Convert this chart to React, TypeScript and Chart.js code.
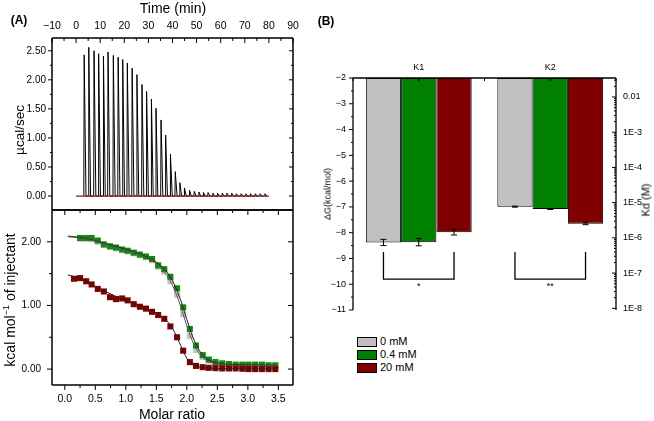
import React, { useEffect, useRef } from 'react';
import { Chart, registerables } from 'chart.js';
Chart.register(...registerables);

const FONT = '"Liberation Sans", Arial, Helvetica, sans-serif';
Chart.defaults.font.family = FONT;
Chart.defaults.color = '#000';

// ---------- Panel A (top): raw thermogram ----------
const injectionTimes = [3.2, 5.1, 7.3, 9.2, 11.2, 13.1, 15.3, 17.3, 19.2, 21.1, 23.1, 25.1, 27.2, 29.1, 31.1, 33.0, 35.1, 37.0, 39.0, 41.0, 42.9, 44.8, 46.9, 48.9, 50.8, 52.7, 54.6, 56.6, 58.5, 60.5, 62.4, 64.4, 66.3, 68.3, 70.3, 72.2, 74.2, 76.2, 78.2];
const peakHeights = [2.43, 2.56, 2.50, 2.45, 2.41, 2.48, 2.42, 2.39, 2.35, 2.29, 2.20, 2.09, 1.92, 1.80, 1.67, 1.51, 1.31, 1.05, 0.72, 0.42, 0.23, 0.14, 0.10, 0.08, 0.07, 0.06, 0.06, 0.05, 0.05, 0.05, 0.05, 0.05, 0.04, 0.04, 0.04, 0.04, 0.04, 0.04, 0.04];
const baselineTimes = [0, 80];
const baselineValues = [0, 0];
const timeMajor = [-10, 0, 10, 20, 30, 40, 50, 60, 70, 80, 90];
const timeMinor = [-5, 5, 15, 25, 35, 45, 55, 65, 75, 85];
const powerMajor = [0, 0.5, 1, 1.5, 2, 2.5];
const powerMinor = [0.25, 0.75, 1.25, 1.75, 2.25];

// ---------- Panel A (bottom): binding isotherm ----------
const ratioRed = [0.15, 0.25, 0.35, 0.44, 0.54, 0.64, 0.74, 0.84, 0.94, 1.03, 1.13, 1.23, 1.33, 1.43, 1.53, 1.63, 1.73, 1.84, 1.94, 2.05, 2.15, 2.26, 2.36, 2.47, 2.58, 2.69, 2.80, 2.91, 3.01, 3.12, 3.23, 3.34, 3.45];
const heatRed = [1.42, 1.43, 1.38, 1.33, 1.26, 1.22, 1.13, 1.10, 1.11, 1.08, 1.02, 0.98, 0.95, 0.90, 0.85, 0.79, 0.67, 0.50, 0.29, 0.11, 0.05, 0.03, 0.02, 0.015, 0.01, 0.01, 0.01, 0.005, 0.0, 0.0, 0.0, 0.0, 0.0];
const ratioGreen = [0.25, 0.35, 0.44, 0.54, 0.64, 0.74, 0.84, 0.94, 1.03, 1.13, 1.23, 1.33, 1.43, 1.53, 1.63, 1.73, 1.84, 1.94, 2.05, 2.15, 2.26, 2.36, 2.47, 2.58, 2.69, 2.80, 2.91, 3.01, 3.12, 3.23, 3.34, 3.45];
const heatGreen = [2.06, 2.06, 2.06, 2.02, 1.96, 1.93, 1.91, 1.88, 1.86, 1.83, 1.80, 1.77, 1.73, 1.63, 1.57, 1.45, 1.27, 0.97, 0.63, 0.37, 0.22, 0.15, 0.11, 0.09, 0.08, 0.07, 0.07, 0.07, 0.07, 0.07, 0.06, 0.06];
const ratioGray = [0.25, 0.35, 0.44, 0.54, 0.64, 0.74, 0.84, 0.94, 1.03, 1.13, 1.23, 1.33, 1.43, 1.53, 1.63, 1.73, 1.84, 1.94, 2.05, 2.15, 2.26, 2.36, 2.47, 2.58, 2.69, 2.80, 2.91, 3.01, 3.12, 3.23, 3.34, 3.45];
const heatGray = [2.05, 2.05, 2.04, 2.00, 1.95, 1.92, 1.90, 1.87, 1.85, 1.82, 1.79, 1.76, 1.71, 1.61, 1.53, 1.38, 1.17, 0.86, 0.52, 0.30, 0.19, 0.13, 0.09, 0.08, 0.07, 0.06, 0.06, 0.06, 0.06, 0.06, 0.05, 0.05];
const fitRatio = [0.05, 0.25, 0.5, 0.75, 1.0, 1.25, 1.5, 1.6, 1.7, 1.8, 1.9, 2.0, 2.1, 2.2, 2.3, 2.45, 2.6, 2.8, 3.1, 3.45];
const fitGreen = [2.09, 2.07, 2.02, 1.95, 1.88, 1.80, 1.68, 1.60, 1.49, 1.32, 1.08, 0.78, 0.50, 0.30, 0.18, 0.11, 0.08, 0.07, 0.065, 0.06];
const fitGray = [2.08, 2.06, 2.01, 1.94, 1.87, 1.79, 1.66, 1.56, 1.43, 1.24, 0.98, 0.68, 0.42, 0.25, 0.15, 0.09, 0.07, 0.06, 0.055, 0.05];
const fitRed = [1.48, 1.42, 1.30, 1.18, 1.08, 0.99, 0.88, 0.82, 0.73, 0.58, 0.37, 0.17, 0.07, 0.035, 0.02, 0.012, 0.008, 0.005, 0.003, 0.0];
const ratioMajor = [0, 0.5, 1, 1.5, 2, 2.5, 3, 3.5];
const ratioMinor = [0.25, 0.75, 1.25, 1.75, 2.25, 2.75, 3.25];
const heatMajor = [0, 1, 2];
const heatMinor = [0.5, 1.5];

// ---------- Panel B: free energy bars ----------
const bindingSites = ['K1', 'K2'];
const concLabels = ['0 mM', '0.4 mM', '20 mM'];
const concColors = ['#c0c0c0', '#008000', '#800000'];
const dGTop = -2;
const dG0mM = [-8.38, -6.99];
const dG04mM = [-8.37, -7.08];
const dG20mM = [-7.98, -7.65];
const err0mM = [0.12, 0.02];
const err04mM = [0.14, 0.02];
const err20mM = [0.11, 0.04];
const dGMajor = [-2, -3, -4, -5, -6, -7, -8, -9, -10, -11];
const dGMinor = [-2.5, -3.5, -4.5, -5.5, -6.5, -7.5, -8.5, -9.5, -10.5];
const kdDecades = [1e-8, 1e-7, 1e-6, 1e-5, 1e-4, 1e-3, 1e-2];
const kdMinorMultipliers = [2, 3, 4, 5, 6, 7, 8, 9];
const kdMin = 8.95e-9;
const kdMax = 0.0346;
const siteTicks = [-0.5, 0, 0.5, 1, 1.5];
const sigLabels = ['*', '**'];
const bracketTop = -8.75;
const bracketBottom = -9.8;

const MINUS = '\u2212';

type Side = {
  scale: string;
  edge: 'top' | 'bottom' | 'left' | 'right';
  major: number[];
  minor?: number[];
  dir: 'in' | 'out';
  majorLen?: number;
  minorLen?: number;
};

const frameTicks = {
  id: 'frameTicks',
  afterDraw(chart: any, _args: any, opts: any) {
    const { ctx, chartArea: a } = chart;
    ctx.save();
    ctx.strokeStyle = '#000';
    ctx.lineWidth = opts.lineWidth ?? 1.5;
    (opts.edges || []).forEach((e: string) => {
      ctx.beginPath();
      if (e === 'top') { ctx.moveTo(a.left, a.top); ctx.lineTo(a.right, a.top); }
      if (e === 'bottom') { ctx.moveTo(a.left, a.bottom); ctx.lineTo(a.right, a.bottom); }
      if (e === 'left') { ctx.moveTo(a.left, a.top); ctx.lineTo(a.left, a.bottom); }
      if (e === 'right') { ctx.moveTo(a.right, a.top); ctx.lineTo(a.right, a.bottom); }
      ctx.stroke();
    });
    ctx.lineWidth = opts.tickWidth ?? 1;
    (opts.sides || []).forEach((s: Side) => {
      const sc = chart.scales[s.scale];
      const draw = (vals: number[], len: number) => vals.forEach((v) => {
        const p = sc.getPixelForValue(v);
        ctx.beginPath();
        if (s.edge === 'top') { const d = s.dir === 'in' ? len : -len; ctx.moveTo(p, a.top); ctx.lineTo(p, a.top + d); }
        if (s.edge === 'bottom') { const d = s.dir === 'in' ? -len : len; ctx.moveTo(p, a.bottom); ctx.lineTo(p, a.bottom + d); }
        if (s.edge === 'left') { const d = s.dir === 'in' ? len : -len; ctx.moveTo(a.left, p); ctx.lineTo(a.left + d, p); }
        if (s.edge === 'right') { const d = s.dir === 'in' ? -len : len; ctx.moveTo(a.right, p); ctx.lineTo(a.right + d, p); }
        ctx.stroke();
      });
      draw(s.major, s.majorLen ?? 5);
      if (s.minor) draw(s.minor, s.minorLen ?? 3);
    });
    ctx.restore();
  },
};

const fmtMinus = (v: number, digits: number) => (v < 0 ? MINUS : '') + Math.abs(v).toFixed(digits);

// fix an axis box size and drop the label-overflow padding Chart.js adds
const fixBox = (w?: number, h?: number) => (s: any) => {
  if (w !== undefined) s.width = w;
  if (h !== undefined) s.height = h;
  s.paddingTop = 0; s.paddingBottom = 0; s.paddingLeft = 0; s.paddingRight = 0;
};

function ThermogramChart() {
  const ref = useRef<HTMLCanvasElement>(null);
  useEffect(() => {
    const pts: { x: number; y: number }[] = [];
    injectionTimes.forEach((t, i) => {
      pts.push({ x: t, y: 0 }, { x: t + 0.15, y: peakHeights[i] }, { x: t + 0.9, y: 0 });
    });
    const base = baselineTimes.map((t, i) => ({ x: t, y: baselineValues[i] }));
    const chart = new Chart(ref.current!, {
      type: 'line',
      data: {
        datasets: [
          { data: base, borderColor: '#8b1a1a', borderWidth: 1.2, pointRadius: 0, order: 0 },
          { data: pts, borderColor: '#000', borderWidth: 1, pointRadius: 0, order: 1 },
        ],
      },
      options: {
        animation: false,
        responsive: false,
        events: [],
        layout: { padding: { left: 0, right: 7, top: 0, bottom: 2 } },
        plugins: {
          legend: { display: false },
          tooltip: { enabled: false },
          frameTicks: {
            edges: ['top', 'bottom', 'left', 'right'],
            sides: [
              { scale: 'x', edge: 'top', major: timeMajor, minor: timeMinor, dir: 'in', majorLen: 5, minorLen: 3 },
              { scale: 'y', edge: 'left', major: powerMajor, minor: powerMinor, dir: 'out', majorLen: 4, minorLen: 2 },
              { scale: 'y', edge: 'right', major: powerMajor, minor: powerMinor, dir: 'in', majorLen: 4, minorLen: 2 },
            ],
          },
        } as any,
        scales: {
          x: {
            type: 'linear',
            position: 'top',
            min: -10,
            max: 90,
            grid: { display: false, drawTicks: false },
            border: { display: false },
            ticks: { font: { size: 10.5 }, padding: 6, autoSkip: false, maxRotation: 0, callback: (v: any) => fmtMinus(Number(v), 0) },
            afterBuildTicks: (s: any) => { s.ticks = timeMajor.map((v) => ({ value: v })); },
            afterFit: fixBox(undefined, 38),
          },
          y: {
            type: 'linear',
            min: -0.24,
            max: 2.72,
            grid: { display: false, drawTicks: false },
            border: { display: false },
            ticks: { font: { size: 10 }, padding: 6, autoSkip: false, callback: (v: any) => Number(v).toFixed(2) },
            afterBuildTicks: (s: any) => { s.ticks = powerMajor.map((v) => ({ value: v })); },
            afterFit: fixBox(52),
          },
        },
      } as any,
      plugins: [frameTicks],
    });
    return () => chart.destroy();
  }, []);
  return <canvas ref={ref} width={300} height={212} style={{ position: 'absolute', left: 0, top: 0, width: 300, height: 212 }} />;
}

function IsothermChart() {
  const ref = useRef<HTMLCanvasElement>(null);
  useEffect(() => {
    const toPts = (xs: number[], ys: number[]) => xs.map((x, i) => ({ x, y: ys[i] }));
    const fitDs = (ys: number[], color: string) => ({
      data: toPts(fitRatio, ys), borderColor: color, borderWidth: 1, pointRadius: 0, cubicInterpolationMode: 'monotone', order: 0,
    });
    const sqDs = (xs: number[], ys: number[], color: string, order: number) => ({
      data: toPts(xs, ys), showLine: false, pointStyle: 'rect', pointRadius: 4.3, backgroundColor: color, borderColor: color, borderWidth: 0, order,
    });
    const chart = new Chart(ref.current!, {
      type: 'line',
      data: {
        datasets: [
          sqDs(ratioGray, heatGray, '#c4c4c4', 3),
          sqDs(ratioGreen, heatGreen, '#128a12', 2),
          sqDs(ratioRed, heatRed, '#800000', 1),
          fitDs(fitGray, '#555'),
          fitDs(fitGreen, '#222'),
          fitDs(fitRed, '#222'),
        ] as any,
      },
      options: {
        animation: false,
        responsive: false,
        events: [],
        layout: { padding: { left: 0, right: 7, top: 5, bottom: 0 } },
        plugins: {
          legend: { display: false },
          tooltip: { enabled: false },
          frameTicks: {
            edges: ['top', 'bottom', 'left', 'right'],
            sides: [
              { scale: 'x', edge: 'bottom', major: ratioMajor, minor: ratioMinor, dir: 'out', majorLen: 5, minorLen: 3 },
              { scale: 'x', edge: 'top', major: ratioMajor, minor: ratioMinor, dir: 'in', majorLen: 5, minorLen: 3 },
              { scale: 'y', edge: 'left', major: heatMajor, minor: heatMinor, dir: 'out', majorLen: 5, minorLen: 3 },
              { scale: 'y', edge: 'right', major: heatMajor, minor: heatMinor, dir: 'in', majorLen: 5, minorLen: 3 },
            ],
          },
        } as any,
        scales: {
          x: {
            type: 'linear',
            position: 'bottom',
            min: -0.21,
            max: 3.74,
            grid: { display: false, drawTicks: false },
            border: { display: false },
            ticks: { font: { size: 10.5 }, padding: 8, autoSkip: false, maxRotation: 0, callback: (v: any) => Number(v).toFixed(1) },
            afterBuildTicks: (s: any) => { s.ticks = ratioMajor.map((v) => ({ value: v })); },
            afterFit: fixBox(undefined, 36),
          },
          y: {
            type: 'linear',
            min: -0.25,
            max: 2.5,
            grid: { display: false, drawTicks: false },
            border: { display: false },
            ticks: { font: { size: 10 }, padding: 11, autoSkip: false, callback: (v: any) => Number(v).toFixed(2) },
            afterBuildTicks: (s: any) => { s.ticks = heatMajor.map((v) => ({ value: v })); },
            afterFit: fixBox(52),
          },
        },
      } as any,
      plugins: [frameTicks],
    });
    return () => chart.destroy();
  }, []);
  return <canvas ref={ref} width={300} height={216} style={{ position: 'absolute', left: 0, top: 205, width: 300, height: 216 }} />;
}

const barExtras = {
  id: 'barExtras',
  afterDatasetsDraw(chart: any) {
    const { ctx } = chart;
    const y = chart.scales.y;
    const vals = [dG0mM, dG04mM, dG20mM];
    const errs = [err0mM, err04mM, err20mM];
    ctx.save();
    ctx.strokeStyle = '#000';
    ctx.lineWidth = 1;
    vals.forEach((vs, i) => {
      const meta = chart.getDatasetMeta(i);
      vs.forEach((v, j) => {
        const x = meta.data[j].x;
        const y1 = y.getPixelForValue(v - errs[i][j]);
        const y2 = y.getPixelForValue(v + errs[i][j]);
        ctx.beginPath();
        ctx.moveTo(x, y1); ctx.lineTo(x, y2);
        ctx.moveTo(x - 3, y1); ctx.lineTo(x + 3, y1);
        ctx.moveTo(x - 3, y2); ctx.lineTo(x + 3, y2);
        ctx.stroke();
      });
    });
    ctx.lineWidth = 1.3;
    ctx.fillStyle = '#000';
    ctx.font = `9px ${FONT}`;
    ctx.textAlign = 'center';
    ctx.textBaseline = 'top';
    bindingSites.forEach((_, j) => {
      const x1 = chart.getDatasetMeta(0).data[j].x;
      const x2 = chart.getDatasetMeta(2).data[j].x;
      const yt = y.getPixelForValue(bracketTop);
      const yb = y.getPixelForValue(bracketBottom);
      ctx.beginPath();
      ctx.moveTo(x1, yt); ctx.lineTo(x1, yb); ctx.lineTo(x2, yb); ctx.lineTo(x2, yt);
      ctx.stroke();
      ctx.fillText(sigLabels[j], (x1 + x2) / 2, yb + 3);
    });
    ctx.restore();
  },
};

function EnergyChart() {
  const ref = useRef<HTMLCanvasElement>(null);
  useEffect(() => {
    const series = [dG0mM, dG04mM, dG20mM];
    const kdMinor: number[] = [];
    kdDecades.forEach((d) => kdMinorMultipliers.forEach((m) => { const v = d * m; if (v > kdMin && v < kdMax) kdMinor.push(v); }));
    const chart = new Chart(ref.current!, {
      type: 'bar',
      data: {
        labels: bindingSites,
        datasets: series.map((vs, i) => ({
          label: concLabels[i],
          data: vs.map((v) => [dGTop, v]),
          backgroundColor: concColors[i],
          borderColor: '#000',
          borderWidth: 1,
          borderSkipped: false,
          barPercentage: 1,
          categoryPercentage: 0.805,
          yAxisID: 'y',
        })),
      } as any,
      options: {
        animation: false,
        responsive: false,
        events: [],
        layout: { padding: { left: 0, right: 0, top: 0, bottom: 20 } },
        plugins: {
          legend: { display: false },
          tooltip: { enabled: false },
          frameTicks: {
            lineWidth: 1.3,
            edges: ['left', 'right', 'top'],
            sides: [
              { scale: 'y', edge: 'left', major: dGMajor, minor: dGMinor, dir: 'out', majorLen: 4, minorLen: 2 },
              { scale: 'y1', edge: 'right', major: kdDecades, minor: kdMinor, dir: 'in', majorLen: 4, minorLen: 2 },
              { scale: 'x', edge: 'top', major: siteTicks, dir: 'in', majorLen: 3 },
            ],
          },
        } as any,
        scales: {
          x: {
            type: 'category',
            position: 'top',
            grid: { display: false, drawTicks: false },
            border: { display: false },
            ticks: { font: { size: 9 }, padding: 5 },
            afterFit: fixBox(undefined, 28),
          },
          y: {
            type: 'linear',
            position: 'left',
            min: -11,
            max: -2,
            grid: { display: false, drawTicks: false },
            border: { display: false },
            ticks: { font: { size: 9 }, padding: 7, autoSkip: false, callback: (v: any) => fmtMinus(Number(v), 0) },
            afterBuildTicks: (s: any) => { s.ticks = dGMajor.map((v) => ({ value: v })); },
            afterFit: fixBox(53),
          },
          y1: {
            type: 'logarithmic',
            position: 'right',
            min: kdMin,
            max: kdMax,
            grid: { display: false, drawTicks: false },
            border: { display: false },
            ticks: {
              font: { size: 9 }, padding: 7, autoSkip: false,
              callback: (v: any) => { const e = Math.round(Math.log10(Number(v))); return e === -2 ? '0.01' : '1E' + e; },
            },
            afterBuildTicks: (s: any) => { s.ticks = kdDecades.map((v) => ({ value: v })); },
            afterFit: fixBox(38),
          },
        },
      } as any,
      plugins: [frameTicks, barExtras],
    });
    return () => chart.destroy();
  }, []);
  return <canvas ref={ref} width={354} height={280} style={{ position: 'absolute', left: 300, top: 50, width: 354, height: 280 }} />;
}

const txt = (extra: React.CSSProperties): React.CSSProperties => ({
  position: 'absolute', whiteSpace: 'nowrap', lineHeight: 1, color: '#000', ...extra,
});
const centered = (cx: number, cy: number, size: number, rotate = 0, extra: React.CSSProperties = {}): React.CSSProperties =>
  txt({ left: cx, top: cy, fontSize: size, transform: `translate(-50%, -50%)${rotate ? ` rotate(${rotate}deg)` : ''}`, ...extra });

export default function App() {
  return (
    <div style={{ position: 'absolute', left: 0, top: 0, width: 654, height: 421, background: '#fff', overflow: 'hidden', fontFamily: FONT }}>
      <ThermogramChart />
      <IsothermChart />
      <EnergyChart />
      <div style={centered(19, 20, 12, 0, { fontWeight: 'bold' })}>(A)</div>
      <div style={centered(326, 21, 12, 0, { fontWeight: 'bold' })}>(B)</div>
      <div style={centered(173, 8, 14)}>Time (min)</div>
      <div style={centered(20, 130, 13.5, -90)}>µcal/sec</div>
      <div style={centered(10, 300, 14, -90)}>kcal mol<sup style={{ fontSize: 9, verticalAlign: 'top', position: 'relative', top: -1 }}>{MINUS}1</sup> of injectant</div>
      <div style={centered(172, 414, 14)}>Molar ratio</div>
      <div style={centered(328, 194, 9, -90)}>ΔG(kcal/mol)</div>
      <div style={centered(646, 200, 11, -90)}>Kd (M)</div>
      <div style={{ position: 'absolute', left: 357, top: 335 }}>
        {concLabels.map((l, i) => (
          <div key={l} style={{ display: 'flex', alignItems: 'center', height: 13 }}>
            <div style={{ width: 18, height: 8, background: concColors[i], border: '1.5px solid #000' }} />
            <span style={{ fontSize: 11, marginLeft: 3, lineHeight: 1 }}>{l}</span>
          </div>
        ))}
      </div>
    </div>
  );
}
